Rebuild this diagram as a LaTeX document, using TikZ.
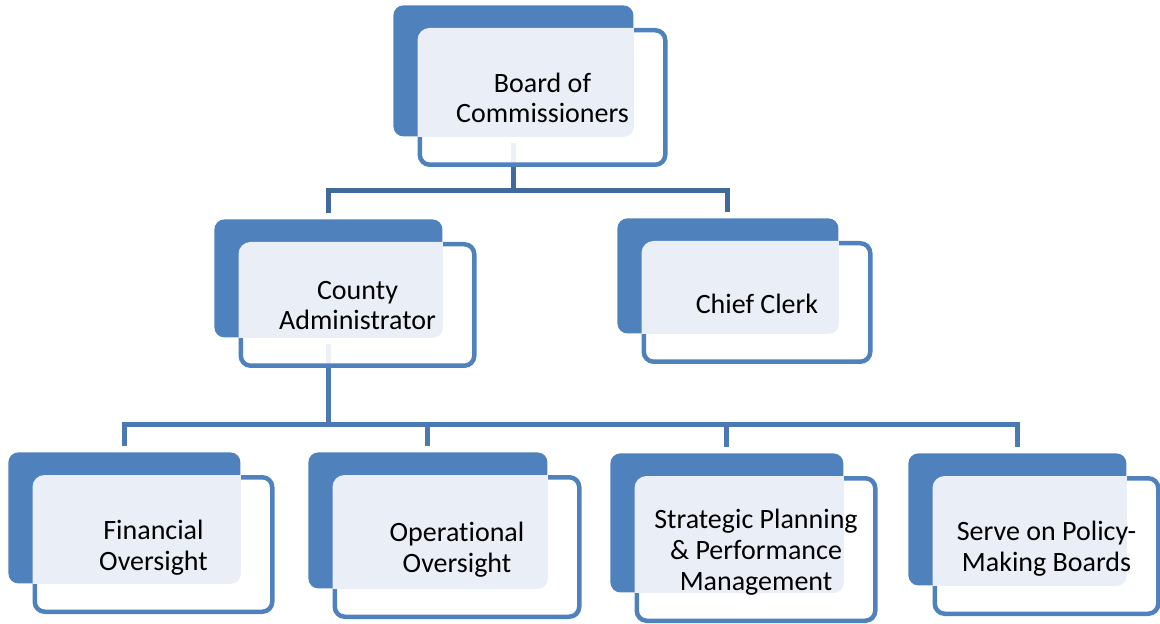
\documentclass[tikz,border=0pt]{standalone}
\usepackage{fontspec}
\setmainfont{Carlito}[Ligatures=NoCommon]
\usepackage{tikz}
\usetikzlibrary{backgrounds,positioning,calc}

\definecolor{boxblue}{HTML}{4F81BD}
\definecolor{boxlight}{HTML}{EAEFF7}
\definecolor{linkblue}{HTML}{4B79B3}
\definecolor{linkdark}{HTML}{41699B}

\begin{document}
\begin{tikzpicture}[x=0.5pt,y=-0.5pt]
  \tikzstyle{back} = [fill=boxblue,rounded corners=5pt,anchor=north west,inner sep=0pt]
  \tikzstyle{frame} = [draw=boxblue,line width=2.25pt,fill=white,fill opacity=0.9,rounded corners=5pt,inner sep=0pt]
  \tikzstyle{caption} = [align=center,font=\fontsize{14}{15.4}\selectfont,execute at begin node=\strut,execute at end node=\strut]
  \tikzstyle{link} = [draw=linkblue,line width=2.5pt]
  \tikzstyle{toplink} = [link,draw=linkdark]
  %
  \useasboundingbox (0,0) rectangle (1160,624);
  % Draw boxes.
  \foreach \nm/\x/\y/\w/\h/\txt in {
    Board/393/5/240/131/{Board of\\Commissioners},
    County/214/219/228/118/{County\\Administrator},
    Clerk/617/218/221/115/{Chief Clerk},
    Finance/8/452/232/131/{Financial\\Oversight},
    Operations/308/452/239/136/{Operational\\Oversight},
    Planning/610/453/233/139/{Strategic Planning\\\& Performance\\Management},
    Policy/908/453/218/132/{Serve on Policy-\\Making Boards}}{
    \node[back,minimum width=\w*0.5pt,minimum height=\h*0.5pt] (b\nm) at (\x,\y) {};
    \node[frame,minimum width=\w*0.5pt+2.75pt,minimum height=\h*0.5pt+1.75pt,
      below right=11.5pt and 12.25pt of b\nm.north west] (f\nm) {};
    \begin{scope}
      \clip[rounded corners=5pt] (b\nm.south west) rectangle (b\nm.north east);
      \fill[boxlight,rounded corners=6pt] (f\nm.south west) rectangle (f\nm.north east);
    \end{scope}
    \node[caption] (t\nm) at ([yshift=-2.5pt]f\nm.center) {\txt};
  }
  \begin{pgfonlayer}{background}
    % Draw lines.
    \draw[toplink] ([yshift=-3pt]bBoard.south) -- ++(0,-24pt) coordinate (jTop);
    \draw[toplink] ([yshift=3pt]bCounty.north) |- (jTop) -| ([yshift=3pt]bClerk.north);
    \draw[link] ([yshift=-3pt]bCounty.south) -- ++(0,-40.5pt) coordinate (jMid);
    \draw[link] ([yshift=3pt]bFinance.north) |- (jMid) -| ([yshift=3pt]bPolicy.north);
    \draw[link] (jMid) -| ([yshift=3pt]bOperations.north) (jMid) -| ([yshift=3pt]bPlanning.north);
  \end{pgfonlayer}
  %
\end{tikzpicture}
\end{document}
